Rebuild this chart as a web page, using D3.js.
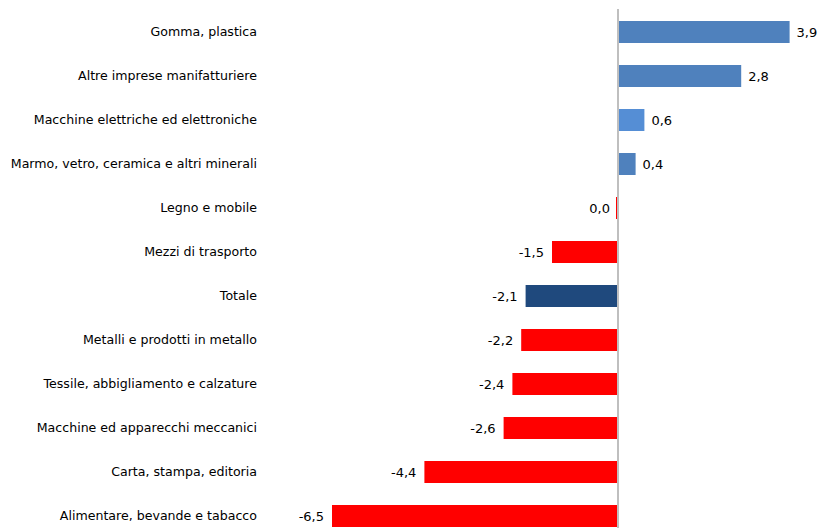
<!DOCTYPE html>
<html><head><meta charset="utf-8">
<script src="https://cdn.jsdelivr.net/npm/d3@7"></script>
<style>body{margin:0;background:#fff}svg{display:block}</style>
</head><body>
<script>
const categories = ["Gomma, plastica","Altre imprese manifatturiere","Macchine elettriche ed elettroniche","Marmo, vetro, ceramica e altri minerali","Legno e mobile","Mezzi di trasporto","Totale","Metalli e prodotti in metallo","Tessile, abbigliamento e calzature","Macchine ed apparecchi meccanici","Carta, stampa, editoria","Alimentare, bevande e tabacco"];
const values = [3.9,2.8,0.6,0.4,0.0,-1.5,-2.1,-2.2,-2.4,-2.6,-4.4,-6.5];
const colors = ["#4f81bd","#4f81bd","#558ed5","#4f81bd","#ff0000","#ff0000","#1f497d","#ff0000","#ff0000","#ff0000","#ff0000","#ff0000"];

const W=820,H=528;
const svg=d3.select("body").append("svg").attr("width",W).attr("height",H);
const font="DejaVu Sans";
const x=d3.scaleLinear().domain([-7,4.5]).range([310,816]);
const y=d3.scaleBand().domain(categories).range([10,538]).paddingInner(0.5).paddingOuter(0.25);
const fmt=v=>d3.format(".1f")(v).replace(".",",").replace("−","-");

svg.selectAll("rect.bar").data(values).join("rect")
  .attr("x",d=>d<0?x(d):x(0))
  .attr("width",d=>Math.max(Math.abs(x(d)-x(0)),2))
  .attr("y",(d,i)=>y(categories[i]))
  .attr("height",y.bandwidth())
  .attr("fill",(d,i)=>colors[i])
  .attr("transform",(d,i)=>d===0?"translate(-2,0)":null);

svg.append("line").attr("x1",x(0)).attr("x2",x(0)).attr("y1",9).attr("y2",H)
  .attr("stroke","#bfbfbf").attr("stroke-width",2);

svg.selectAll("text.cat").data(categories).join("text")
  .attr("x",257).attr("y",d=>y(d)+y.bandwidth()/2).attr("dy","0.35em")
  .attr("text-anchor","end").attr("font-family",font).attr("font-size",12.6).attr("fill","#000")
  .text(d=>d);

svg.selectAll("text.val").data(values).join("text")
  .attr("x",d=>d<=0?Math.min(x(d),x(0))-8:x(d)+7)
  .attr("y",(d,i)=>y(categories[i])+y.bandwidth()/2).attr("dy","0.35em")
  .attr("text-anchor",d=>d<=0?"end":"start").attr("font-family",font).attr("font-size",13).attr("fill","#000")
  .text(d=>fmt(d));
</script>
</body></html>
